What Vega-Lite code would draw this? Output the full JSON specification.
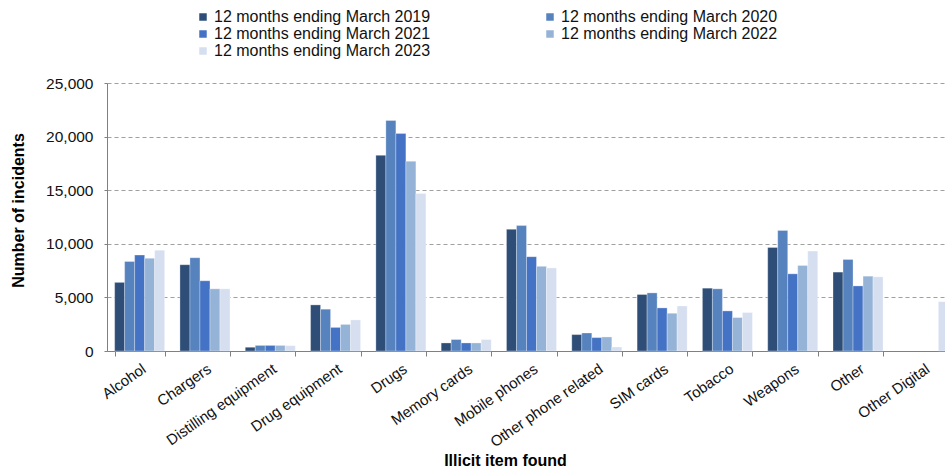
{
  "$schema": "https://vega.github.io/schema/vega-lite/v6.json",
  "width": 838,
  "height": 268,
  "autosize": {"type": "none"},
  "padding": {"left": 107, "top": 83, "right": 0, "bottom": 119},
  "background": "white",
  "config": {
    "view": {"stroke": null},
    "font": "Liberation Sans",
    "axis": {"labelFont": "Liberation Sans", "titleFont": "Liberation Sans"},
    "legend": {"labelFont": "Liberation Sans"}
  },
  "data": {
    "values": [
      {"item": "Alcohol", "period": "12 months ending March 2019", "value": 6400},
      {"item": "Alcohol", "period": "12 months ending March 2020", "value": 8350},
      {"item": "Alcohol", "period": "12 months ending March 2021", "value": 8950},
      {"item": "Alcohol", "period": "12 months ending March 2022", "value": 8650},
      {"item": "Alcohol", "period": "12 months ending March 2023", "value": 9400},
      {"item": "Chargers", "period": "12 months ending March 2019", "value": 8050},
      {"item": "Chargers", "period": "12 months ending March 2020", "value": 8700},
      {"item": "Chargers", "period": "12 months ending March 2021", "value": 6550},
      {"item": "Chargers", "period": "12 months ending March 2022", "value": 5800},
      {"item": "Chargers", "period": "12 months ending March 2023", "value": 5800},
      {"item": "Distilling equipment", "period": "12 months ending March 2019", "value": 350},
      {"item": "Distilling equipment", "period": "12 months ending March 2020", "value": 520},
      {"item": "Distilling equipment", "period": "12 months ending March 2021", "value": 520},
      {"item": "Distilling equipment", "period": "12 months ending March 2022", "value": 520},
      {"item": "Distilling equipment", "period": "12 months ending March 2023", "value": 500},
      {"item": "Drug equipment", "period": "12 months ending March 2019", "value": 4300},
      {"item": "Drug equipment", "period": "12 months ending March 2020", "value": 3900},
      {"item": "Drug equipment", "period": "12 months ending March 2021", "value": 2200},
      {"item": "Drug equipment", "period": "12 months ending March 2022", "value": 2480},
      {"item": "Drug equipment", "period": "12 months ending March 2023", "value": 2900},
      {"item": "Drugs", "period": "12 months ending March 2019", "value": 18250},
      {"item": "Drugs", "period": "12 months ending March 2020", "value": 21500},
      {"item": "Drugs", "period": "12 months ending March 2021", "value": 20300},
      {"item": "Drugs", "period": "12 months ending March 2022", "value": 17700},
      {"item": "Drugs", "period": "12 months ending March 2023", "value": 14700},
      {"item": "Memory cards", "period": "12 months ending March 2019", "value": 750},
      {"item": "Memory cards", "period": "12 months ending March 2020", "value": 1070},
      {"item": "Memory cards", "period": "12 months ending March 2021", "value": 750},
      {"item": "Memory cards", "period": "12 months ending March 2022", "value": 750},
      {"item": "Memory cards", "period": "12 months ending March 2023", "value": 1070},
      {"item": "Mobile phones", "period": "12 months ending March 2019", "value": 11350},
      {"item": "Mobile phones", "period": "12 months ending March 2020", "value": 11700},
      {"item": "Mobile phones", "period": "12 months ending March 2021", "value": 8800},
      {"item": "Mobile phones", "period": "12 months ending March 2022", "value": 7900},
      {"item": "Mobile phones", "period": "12 months ending March 2023", "value": 7750},
      {"item": "Other phone related", "period": "12 months ending March 2019", "value": 1530},
      {"item": "Other phone related", "period": "12 months ending March 2020", "value": 1680},
      {"item": "Other phone related", "period": "12 months ending March 2021", "value": 1250},
      {"item": "Other phone related", "period": "12 months ending March 2022", "value": 1310},
      {"item": "Other phone related", "period": "12 months ending March 2023", "value": 380},
      {"item": "SIM cards", "period": "12 months ending March 2019", "value": 5270},
      {"item": "SIM cards", "period": "12 months ending March 2020", "value": 5420},
      {"item": "SIM cards", "period": "12 months ending March 2021", "value": 4020},
      {"item": "SIM cards", "period": "12 months ending March 2022", "value": 3520},
      {"item": "SIM cards", "period": "12 months ending March 2023", "value": 4200},
      {"item": "Tobacco", "period": "12 months ending March 2019", "value": 5860},
      {"item": "Tobacco", "period": "12 months ending March 2020", "value": 5800},
      {"item": "Tobacco", "period": "12 months ending March 2021", "value": 3740},
      {"item": "Tobacco", "period": "12 months ending March 2022", "value": 3120},
      {"item": "Tobacco", "period": "12 months ending March 2023", "value": 3590},
      {"item": "Weapons", "period": "12 months ending March 2019", "value": 9660},
      {"item": "Weapons", "period": "12 months ending March 2020", "value": 11250},
      {"item": "Weapons", "period": "12 months ending March 2021", "value": 7200},
      {"item": "Weapons", "period": "12 months ending March 2022", "value": 7980},
      {"item": "Weapons", "period": "12 months ending March 2023", "value": 9320},
      {"item": "Other", "period": "12 months ending March 2019", "value": 7360},
      {"item": "Other", "period": "12 months ending March 2020", "value": 8540},
      {"item": "Other", "period": "12 months ending March 2021", "value": 6070},
      {"item": "Other", "period": "12 months ending March 2022", "value": 6980},
      {"item": "Other", "period": "12 months ending March 2023", "value": 6920},
      {"item": "Other Digital", "period": "12 months ending March 2023", "value": 4600}
    ]
  },
  "mark": {"type": "bar", "stroke": "white", "strokeOpacity": 0.5, "strokeWidth": 0.6},
  "encoding": {
    "x": {
      "field": "item",
      "type": "nominal",
      "sort": null,
      "scale": {"paddingInner": 0.234, "paddingOuter": 0.117, "range": [0, 849]},
      "axis": {
        "title": "Illicit item found",
        "titleFontSize": 16,
        "titleFontWeight": "bold",
        "titleColor": "#000000",
        "titleX": 398,
        "titleY": 109,
        "titleBaseline": "middle",
        "titleAlign": "center",
        "labelAngle": -35,
        "labelFontSize": 15,
        "labelColor": "#111111",
        "labelPadding": 5,
        "labelLimit": 300,
        "tickBand": "extent",
        "tickSize": 5,
        "tickColor": "#808080",
        "domainColor": "#808080",
        "grid": false
      }
    },
    "xOffset": {
      "field": "period",
      "type": "nominal",
      "scale": {"paddingInner": 0, "paddingOuter": 0, "domain": ["12 months ending March 2019", "12 months ending March 2020", "12 months ending March 2021", "12 months ending March 2022", "12 months ending March 2023"]}
    },
    "y": {
      "field": "value",
      "type": "quantitative",
      "scale": {"domain": [0, 25000], "nice": false},
      "axis": {
        "title": "Number of incidents",
        "titleFontSize": 16,
        "titleFontWeight": "bold",
        "titleColor": "#000000",
        "titleX": -89,
        "titleY": 127,
        "titleAlign": "center",
        "titleBaseline": "middle",
        "values": [0, 5000, 10000, 15000, 20000, 25000],
        "format": ",.0f",
        "labelFontSize": 15.5,
        "labelColor": "#111111",
        "labelPadding": 11,
        "tickSize": 3,
        "tickColor": "#808080",
        "domainColor": "#808080",
        "gridColor": "#a0a0a0",
        "gridDash": [4, 3],
        "gridWidth": 1
      }
    },
    "color": {
      "field": "period",
      "type": "nominal",
      "title": null,
      "scale": {
        "domain": ["12 months ending March 2019", "12 months ending March 2021", "12 months ending March 2023", "12 months ending March 2020", "12 months ending March 2022"],
        "range": ["#2E4E78", "#4472C4", "#D6DFF0", "#5682BE", "#95B3D7"]
      },
      "legend": {
        "orient": "none",
        "legendX": 88,
        "legendY": -74,
        "columns": 2,
        "columnPadding": 111,
        "rowPadding": 1,
        "padding": 0,
        "symbolType": "square",
        "symbolSize": 56,
        "symbolStrokeWidth": 0,
        "labelFontSize": 16,
        "labelColor": "#111111",
        "labelOffset": 3,
        "labelLimit": 400
      }
    }
  }
}
